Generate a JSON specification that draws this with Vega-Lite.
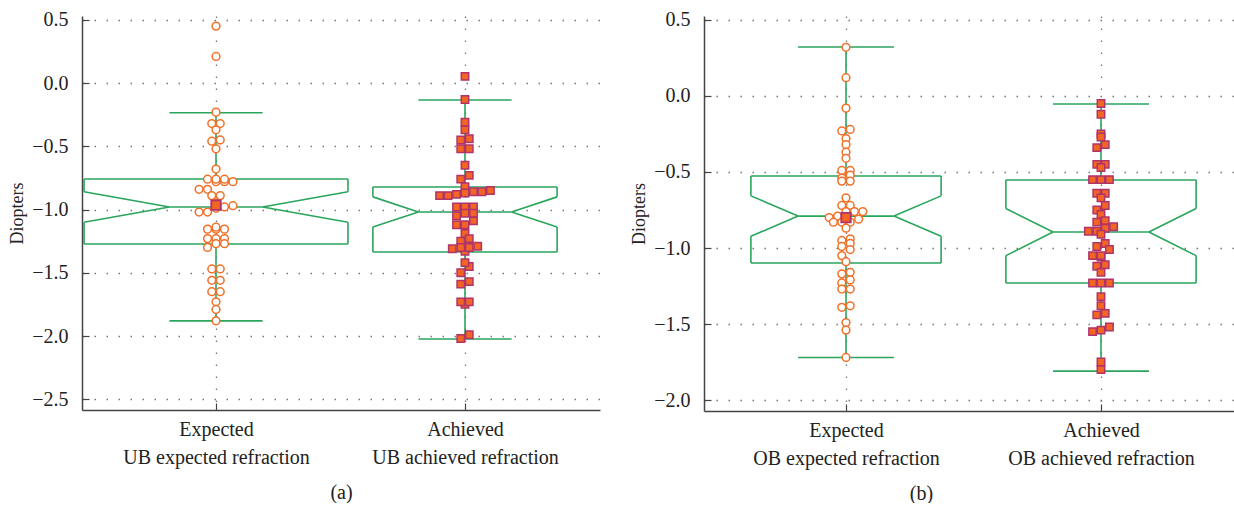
{
  "$schema": "https://vega.github.io/schema/vega-lite/v6.json",
  "padding": {"left": 8, "top": 9, "right": 0, "bottom": 0},
  "background": "white",
  "spacing": 30,
  "datasets": {
    "pts": [
      {"p":"a","g":1,"v":0.45},{"p":"a","g":1,"v":0.21},{"p":"a","g":1,"v":-0.23},{"p":"a","g":1,"v":-0.32},{"p":"a","g":1,"v":-0.32},{"p":"a","g":1,"v":-0.37},{"p":"a","g":1,"v":-0.46},{"p":"a","g":1,"v":-0.45},{"p":"a","g":1,"v":-0.52},{"p":"a","g":1,"v":-0.68},
      {"p":"a","g":1,"v":-0.78},{"p":"a","g":1,"v":-0.78},{"p":"a","g":1,"v":-0.78},{"p":"a","g":1,"v":-0.76},{"p":"a","g":1,"v":-0.76},{"p":"a","g":1,"v":-0.76},{"p":"a","g":1,"v":-0.84},{"p":"a","g":1,"v":-0.84},{"p":"a","g":1,"v":-0.89},{"p":"a","g":1,"v":-0.89},
      {"p":"a","g":1,"v":-0.95},{"p":"a","g":1,"v":-0.98},{"p":"a","g":1,"v":-0.99},{"p":"a","g":1,"v":-1.02},{"p":"a","g":1,"v":-1.02},{"p":"a","g":1,"v":-0.97},{"p":"a","g":1,"v":-1.155},{"p":"a","g":1,"v":-1.155},{"p":"a","g":1,"v":-1.155},{"p":"a","g":1,"v":-1.14},
      {"p":"a","g":1,"v":-1.23},{"p":"a","g":1,"v":-1.23},{"p":"a","g":1,"v":-1.23},{"p":"a","g":1,"v":-1.27},{"p":"a","g":1,"v":-1.27},{"p":"a","g":1,"v":-1.30},{"p":"a","g":1,"v":-1.47},{"p":"a","g":1,"v":-1.47},{"p":"a","g":1,"v":-1.56},{"p":"a","g":1,"v":-1.56},
      {"p":"a","g":1,"v":-1.65},{"p":"a","g":1,"v":-1.65},{"p":"a","g":1,"v":-1.73},{"p":"a","g":1,"v":-1.79},{"p":"a","g":1,"v":-1.88},
      {"p":"a","g":2,"v":0.053},{"p":"a","g":2,"v":-0.13},{"p":"a","g":2,"v":-0.31},{"p":"a","g":2,"v":-0.37},{"p":"a","g":2,"v":-0.45},{"p":"a","g":2,"v":-0.44},{"p":"a","g":2,"v":-0.52},{"p":"a","g":2,"v":-0.52},{"p":"a","g":2,"v":-0.65},{"p":"a","g":2,"v":-0.73},
      {"p":"a","g":2,"v":-0.76},{"p":"a","g":2,"v":-0.82},{"p":"a","g":2,"v":-0.86},{"p":"a","g":2,"v":-0.89},{"p":"a","g":2,"v":-0.89},{"p":"a","g":2,"v":-0.88},{"p":"a","g":2,"v":-0.86},{"p":"a","g":2,"v":-0.87},{"p":"a","g":2,"v":-0.85},{"p":"a","g":2,"v":-0.98},
      {"p":"a","g":2,"v":-0.98},{"p":"a","g":2,"v":-0.98},{"p":"a","g":2,"v":-1.03},{"p":"a","g":2,"v":-1.03},{"p":"a","g":2,"v":-1.05},{"p":"a","g":2,"v":-1.09},{"p":"a","g":2,"v":-1.12},{"p":"a","g":2,"v":-1.12},{"p":"a","g":2,"v":-1.19},{"p":"a","g":2,"v":-1.23},
      {"p":"a","g":2,"v":-1.25},{"p":"a","g":2,"v":-1.33},{"p":"a","g":2,"v":-1.31},{"p":"a","g":2,"v":-1.30},{"p":"a","g":2,"v":-1.30},{"p":"a","g":2,"v":-1.29},{"p":"a","g":2,"v":-1.45},{"p":"a","g":2,"v":-1.42},{"p":"a","g":2,"v":-1.50},{"p":"a","g":2,"v":-1.59},
      {"p":"a","g":2,"v":-1.57},{"p":"a","g":2,"v":-1.75},{"p":"a","g":2,"v":-1.73},{"p":"a","g":2,"v":-1.73},{"p":"a","g":2,"v":-1.99},{"p":"a","g":2,"v":-2.02},
      {"p":"b","g":1,"v":0.32},{"p":"b","g":1,"v":0.12},{"p":"b","g":1,"v":-0.08},{"p":"b","g":1,"v":-0.23},{"p":"b","g":1,"v":-0.22},{"p":"b","g":1,"v":-0.28},{"p":"b","g":1,"v":-0.32},{"p":"b","g":1,"v":-0.37},{"p":"b","g":1,"v":-0.41},{"p":"b","g":1,"v":-0.49},
      {"p":"b","g":1,"v":-0.49},{"p":"b","g":1,"v":-0.52},{"p":"b","g":1,"v":-0.54},{"p":"b","g":1,"v":-0.56},{"p":"b","g":1,"v":-0.56},{"p":"b","g":1,"v":-0.67},{"p":"b","g":1,"v":-0.72},{"p":"b","g":1,"v":-0.72},{"p":"b","g":1,"v":-0.79},{"p":"b","g":1,"v":-0.76},
      {"p":"b","g":1,"v":-0.76},{"p":"b","g":1,"v":-0.76},{"p":"b","g":1,"v":-0.80},{"p":"b","g":1,"v":-0.83},{"p":"b","g":1,"v":-0.83},{"p":"b","g":1,"v":-0.83},{"p":"b","g":1,"v":-0.81},{"p":"b","g":1,"v":-0.87},{"p":"b","g":1,"v":-0.94},{"p":"b","g":1,"v":-0.97},
      {"p":"b","g":1,"v":-0.95},{"p":"b","g":1,"v":-1.01},{"p":"b","g":1,"v":-0.99},{"p":"b","g":1,"v":-1.05},{"p":"b","g":1,"v":-1.09},{"p":"b","g":1,"v":-1.17},{"p":"b","g":1,"v":-1.16},{"p":"b","g":1,"v":-1.23},{"p":"b","g":1,"v":-1.21},{"p":"b","g":1,"v":-1.27},
      {"p":"b","g":1,"v":-1.27},{"p":"b","g":1,"v":-1.39},{"p":"b","g":1,"v":-1.38},{"p":"b","g":1,"v":-1.49},{"p":"b","g":1,"v":-1.54},{"p":"b","g":1,"v":-1.72},
      {"p":"b","g":2,"v":-0.05},{"p":"b","g":2,"v":-0.12},{"p":"b","g":2,"v":-0.25},{"p":"b","g":2,"v":-0.27},{"p":"b","g":2,"v":-0.32},{"p":"b","g":2,"v":-0.34},{"p":"b","g":2,"v":-0.45},{"p":"b","g":2,"v":-0.45},{"p":"b","g":2,"v":-0.47},{"p":"b","g":2,"v":-0.55},
      {"p":"b","g":2,"v":-0.55},{"p":"b","g":2,"v":-0.55},{"p":"b","g":2,"v":-0.64},{"p":"b","g":2,"v":-0.64},{"p":"b","g":2,"v":-0.67},{"p":"b","g":2,"v":-0.72},{"p":"b","g":2,"v":-0.75},{"p":"b","g":2,"v":-0.78},{"p":"b","g":2,"v":-0.83},{"p":"b","g":2,"v":-0.82},
      {"p":"b","g":2,"v":-0.87},{"p":"b","g":2,"v":-0.86},{"p":"b","g":2,"v":-0.89},{"p":"b","g":2,"v":-0.89},{"p":"b","g":2,"v":-0.91},{"p":"b","g":2,"v":-0.97},{"p":"b","g":2,"v":-0.99},{"p":"b","g":2,"v":-1.01},{"p":"b","g":2,"v":-1.06},{"p":"b","g":2,"v":-1.05},
      {"p":"b","g":2,"v":-1.05},{"p":"b","g":2,"v":-1.11},{"p":"b","g":2,"v":-1.12},{"p":"b","g":2,"v":-1.16},{"p":"b","g":2,"v":-1.23},{"p":"b","g":2,"v":-1.23},{"p":"b","g":2,"v":-1.23},{"p":"b","g":2,"v":-1.32},{"p":"b","g":2,"v":-1.38},{"p":"b","g":2,"v":-1.43},
      {"p":"b","g":2,"v":-1.44},{"p":"b","g":2,"v":-1.55},{"p":"b","g":2,"v":-1.54},{"p":"b","g":2,"v":-1.52},{"p":"b","g":2,"v":-1.75},{"p":"b","g":2,"v":-1.80}
    ],
    "stats": [
      {"p":"a","g":1,"lw":-1.88,"q1":-1.273,"med":-0.98,"q3":-0.759,"uw":-0.235,"nlo":-1.10,"nhi":-0.86,"mean":-0.965},
      {"p":"a","g":2,"lw":-2.024,"q1":-1.336,"med":-1.02,"q3":-0.822,"uw":-0.134,"nlo":-1.138,"nhi":-0.90,"mean":null},
      {"p":"b","g":1,"lw":-1.72,"q1":-1.099,"med":-0.79,"q3":-0.526,"uw":0.322,"nlo":-0.923,"nhi":-0.657,"mean":-0.80},
      {"p":"b","g":2,"lw":-1.81,"q1":-1.23,"med":-0.895,"q3":-0.553,"uw":-0.053,"nlo":-1.05,"nhi":-0.74,"mean":null}
    ]
  },
  "config": {
    "view": {"stroke": null},
    "font": "Liberation Serif",
    "axis": {
      "labelFont": "Liberation Serif", "labelFontSize": 20, "labelColor": "#222", "labelLimit": 0,
      "titleFont": "Liberation Serif", "titleFontSize": 18, "titleFontWeight": "normal", "titleColor": "#222",
      "domainColor": "#444", "domainWidth": 1.5, "tickColor": "#444", "tickWidth": 1.2, "tickSize": -7,
      "grid": true, "gridColor": "#777", "gridDash": [1.5, 10.5], "gridWidth": 1.3
    }
  },
  "hconcat": [
    {
      "width": 518, "height": 394,
      "encoding": {
        "x": {"field": "x", "type": "quantitative",
          "scale": {"domain": [0.4618, 2.5422], "nice": false, "zero": false},
          "axis": {"values": [1, 2], "labelExpr": "datum.value == 1 ? ['Expected', 'UB expected refraction'] : ['Achieved', 'UB achieved refraction']",
            "labelLineHeight": 28, "labelPadding": 16, "labelOverlap": false, "title": "(a)", "titleFontSize": 20, "titleBaseline": "middle", "titleY": 82}},
        "y": {"field": "y", "type": "quantitative",
          "scale": {"domain": [-2.585, 0.53], "nice": false, "zero": false},
          "axis": {"values": [-2.5, -2, -1.5, -1, -0.5, 0, 0.5], "format": ".1f", "labelPadding": 21, "title": "Diopters", "titleBaseline": "middle", "titleX": -65}}
      },
      "layer": [
        {
          "data": {"name": "stats"},
          "transform": [
            {"filter": "datum.p == 'a'"},
            {"calculate": "datum.g == 1 ? 0.53 : 0.37", "as": "w"},
            {"calculate": "0.187", "as": "n"},
            {"calculate": "[[datum.g-datum.w, datum.q3, datum.g+datum.w, datum.q3],[datum.g-datum.w, datum.q1, datum.g+datum.w, datum.q1],[datum.g-datum.n, datum.med, datum.g+datum.n, datum.med],[datum.g+datum.w, datum.q3, datum.g+datum.w, datum.nhi],[datum.g+datum.w, datum.nhi, datum.g+datum.n, datum.med],[datum.g+datum.n, datum.med, datum.g+datum.w, datum.nlo],[datum.g+datum.w, datum.nlo, datum.g+datum.w, datum.q1],[datum.g-datum.w, datum.q3, datum.g-datum.w, datum.nhi],[datum.g-datum.w, datum.nhi, datum.g-datum.n, datum.med],[datum.g-datum.n, datum.med, datum.g-datum.w, datum.nlo],[datum.g-datum.w, datum.nlo, datum.g-datum.w, datum.q1],[datum.g, datum.q3, datum.g, datum.uw],[datum.g, datum.q1, datum.g, datum.lw],[datum.g-datum.n, datum.uw, datum.g+datum.n, datum.uw],[datum.g-datum.n, datum.lw, datum.g+datum.n, datum.lw]]", "as": "segs"},
            {"flatten": ["segs"]},
            {"calculate": "datum.segs[0]", "as": "x"},
            {"calculate": "datum.segs[1]", "as": "y"},
            {"calculate": "datum.segs[2]", "as": "x2"},
            {"calculate": "datum.segs[3]", "as": "y2"}
          ],
          "mark": {"type": "rule", "color": "#2aa55c", "strokeWidth": 1.6},
          "encoding": {"x2": {"field": "x2"}, "y2": {"field": "y2"}}
        },
        {
          "data": {"name": "pts"},
          "transform": [
            {"filter": "datum.p == 'a' && datum.g == 1"},
            {"calculate": "floor(datum.v / 0.06)", "as": "bin"},
            {"joinaggregate": [{"op": "count", "as": "cnt"}], "groupby": ["bin"]},
            {"window": [{"op": "row_number", "as": "k"}], "groupby": ["bin"], "sort": [{"field": "v"}]},
            {"calculate": "datum.g + (datum.k - (datum.cnt + 1) / 2) * 0.034", "as": "x"},
            {"calculate": "datum.v", "as": "y"}
          ],
          "mark": {"type": "point", "shape": "circle", "filled": false, "fill": "white", "fillOpacity": 1, "stroke": "#f07028", "strokeWidth": 1.5, "size": 60, "opacity": 1}
        },
        {
          "data": {"name": "pts"},
          "transform": [
            {"filter": "datum.p == 'a' && datum.g == 2"},
            {"calculate": "floor(datum.v / 0.06)", "as": "bin"},
            {"joinaggregate": [{"op": "count", "as": "cnt"}], "groupby": ["bin"]},
            {"window": [{"op": "row_number", "as": "k"}], "groupby": ["bin"], "sort": [{"field": "v"}]},
            {"calculate": "datum.g + (datum.k - (datum.cnt + 1) / 2) * 0.034", "as": "x"},
            {"calculate": "datum.v", "as": "y"}
          ],
          "mark": {"type": "point", "shape": "square", "filled": true, "fill": "#f26522", "stroke": "#b0336b", "strokeWidth": 1.5, "size": 55, "opacity": 1}
        },
        {
          "data": {"name": "stats"},
          "transform": [
            {"filter": "datum.p == 'a' && datum.mean != null"},
            {"calculate": "datum.g", "as": "x"},
            {"calculate": "datum.mean", "as": "y"}
          ],
          "mark": {"type": "point", "shape": "square", "filled": true, "fill": "#f26522", "stroke": "#b0336b", "strokeWidth": 1.8, "size": 90, "opacity": 1}
        }
      ]
    },
    {
      "width": 531, "height": 395,
      "encoding": {
        "x": {"field": "x", "type": "quantitative",
          "scale": {"domain": [0.4431, 2.5255], "nice": false, "zero": false},
          "axis": {"values": [1, 2], "labelExpr": "datum.value == 1 ? ['Expected', 'OB expected refraction'] : ['Achieved', 'OB achieved refraction']",
            "labelLineHeight": 28, "labelPadding": 16, "labelOverlap": false, "title": "(b)", "titleFontSize": 20, "titleBaseline": "middle", "titleY": 82, "titleX": 217}},
        "y": {"field": "y", "type": "quantitative",
          "scale": {"domain": [-2.072, 0.526], "nice": false, "zero": false},
          "axis": {"values": [-2, -1.5, -1, -0.5, 0, 0.5], "format": ".1f", "labelPadding": 21, "title": "Diopters", "titleBaseline": "middle", "titleX": -65}}
      },
      "layer": [
        {
          "data": {"name": "stats"},
          "transform": [
            {"filter": "datum.p == 'b'"},
            {"calculate": "0.373", "as": "w"},
            {"calculate": "0.188", "as": "n"},
            {"calculate": "[[datum.g-datum.w, datum.q3, datum.g+datum.w, datum.q3],[datum.g-datum.w, datum.q1, datum.g+datum.w, datum.q1],[datum.g-datum.n, datum.med, datum.g+datum.n, datum.med],[datum.g+datum.w, datum.q3, datum.g+datum.w, datum.nhi],[datum.g+datum.w, datum.nhi, datum.g+datum.n, datum.med],[datum.g+datum.n, datum.med, datum.g+datum.w, datum.nlo],[datum.g+datum.w, datum.nlo, datum.g+datum.w, datum.q1],[datum.g-datum.w, datum.q3, datum.g-datum.w, datum.nhi],[datum.g-datum.w, datum.nhi, datum.g-datum.n, datum.med],[datum.g-datum.n, datum.med, datum.g-datum.w, datum.nlo],[datum.g-datum.w, datum.nlo, datum.g-datum.w, datum.q1],[datum.g, datum.q3, datum.g, datum.uw],[datum.g, datum.q1, datum.g, datum.lw],[datum.g-datum.n, datum.uw, datum.g+datum.n, datum.uw],[datum.g-datum.n, datum.lw, datum.g+datum.n, datum.lw]]", "as": "segs"},
            {"flatten": ["segs"]},
            {"calculate": "datum.segs[0]", "as": "x"},
            {"calculate": "datum.segs[1]", "as": "y"},
            {"calculate": "datum.segs[2]", "as": "x2"},
            {"calculate": "datum.segs[3]", "as": "y2"}
          ],
          "mark": {"type": "rule", "color": "#2aa55c", "strokeWidth": 1.6},
          "encoding": {"x2": {"field": "x2"}, "y2": {"field": "y2"}}
        },
        {
          "data": {"name": "pts"},
          "transform": [
            {"filter": "datum.p == 'b' && datum.g == 1"},
            {"calculate": "floor(datum.v / 0.05)", "as": "bin"},
            {"joinaggregate": [{"op": "count", "as": "cnt"}], "groupby": ["bin"]},
            {"window": [{"op": "row_number", "as": "k"}], "groupby": ["bin"], "sort": [{"field": "v"}]},
            {"calculate": "datum.g + (datum.k - (datum.cnt + 1) / 2) * 0.033", "as": "x"},
            {"calculate": "datum.v", "as": "y"}
          ],
          "mark": {"type": "point", "shape": "circle", "filled": false, "fill": "white", "fillOpacity": 1, "stroke": "#f07028", "strokeWidth": 1.5, "size": 60, "opacity": 1}
        },
        {
          "data": {"name": "pts"},
          "transform": [
            {"filter": "datum.p == 'b' && datum.g == 2"},
            {"calculate": "floor(datum.v / 0.05)", "as": "bin"},
            {"joinaggregate": [{"op": "count", "as": "cnt"}], "groupby": ["bin"]},
            {"window": [{"op": "row_number", "as": "k"}], "groupby": ["bin"], "sort": [{"field": "v"}]},
            {"calculate": "datum.g + (datum.k - (datum.cnt + 1) / 2) * 0.033", "as": "x"},
            {"calculate": "datum.v", "as": "y"}
          ],
          "mark": {"type": "point", "shape": "square", "filled": true, "fill": "#f26522", "stroke": "#b0336b", "strokeWidth": 1.5, "size": 55, "opacity": 1}
        },
        {
          "data": {"name": "stats"},
          "transform": [
            {"filter": "datum.p == 'b' && datum.mean != null"},
            {"calculate": "datum.g", "as": "x"},
            {"calculate": "datum.mean", "as": "y"}
          ],
          "mark": {"type": "point", "shape": "square", "filled": true, "fill": "#f26522", "stroke": "#b0336b", "strokeWidth": 1.8, "size": 90, "opacity": 1}
        }
      ]
    }
  ]
}
